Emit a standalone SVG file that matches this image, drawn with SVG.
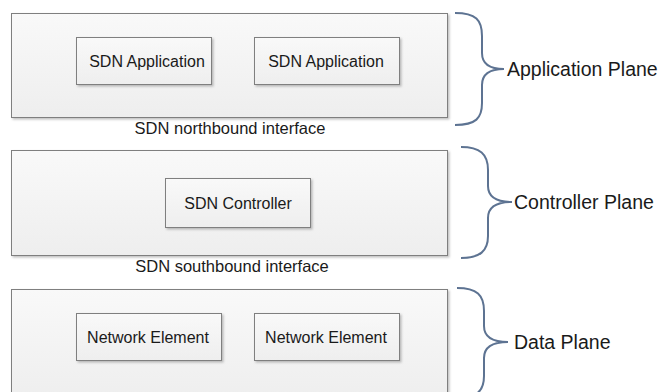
<svg xmlns="http://www.w3.org/2000/svg" width="664" height="392" viewBox="0 0 664 392">
<defs>
<linearGradient id="g" x1="0" y1="0" x2="0" y2="1">
<stop offset="0" stop-color="#f9f9f9"/>
<stop offset="1" stop-color="#eeeeee"/>
</linearGradient>
<filter id="sh" x="-5%" y="-5%" width="115%" height="120%">
<feDropShadow dx="1.5" dy="1.5" stdDeviation="0.8" flood-color="#000" flood-opacity="0.25"/>
</filter>
</defs>
<style>
.plane{fill:url(#g);stroke:#7f7f7f;stroke-width:1;filter:url(#sh)}
.box{fill:url(#g);stroke:#7f7f7f;stroke-width:1;filter:url(#sh)}
.t{font-family:"Liberation Sans",Arial,sans-serif;font-size:16px;fill:#1a1a1a;text-anchor:middle}
.lbl{font-family:"Liberation Sans",Arial,sans-serif;font-size:16.5px;fill:#1a1a1a;text-anchor:middle}
.pl{font-family:"Liberation Sans",Arial,sans-serif;font-size:19.5px;fill:#1a1a1a}
.brace{fill:none;stroke:#5d7392;stroke-width:2}
</style>
<rect width="664" height="392" fill="#ffffff"/>
<g id="app-plane">
<rect class="plane" x="11.5" y="13.5" width="436" height="104"/>
<text class="lbl" x="230" y="134">SDN northbound interface</text>
</g>
<g id="app1">
<rect class="box" x="76.5" y="37.5" width="135" height="47"/>
<text class="t" x="147" y="66.5">SDN Application</text>
</g>
<g id="app2">
<rect class="box" x="254.5" y="37.5" width="145" height="47"/>
<text class="t" x="326" y="66.5">SDN Application</text>
</g>
<g id="ctrl-plane">
<rect class="plane" x="11.5" y="150.5" width="436" height="105"/>
<text class="lbl" x="232" y="272">SDN southbound interface</text>
</g>
<g id="ctrl">
<rect class="box" x="165.5" y="178.5" width="145" height="49"/>
<text class="t" x="238" y="208.5">SDN Controller</text>
</g>
<g id="data-plane">
<rect class="plane" x="11.5" y="289.5" width="436" height="110"/>
</g>
<g id="ne1">
<rect class="box" x="76.5" y="313.5" width="145" height="47"/>
<text class="t" x="148" y="342.5">Network Element</text>
</g>
<g id="ne2">
<rect class="box" x="254.5" y="313.5" width="145" height="47"/>
<text class="t" x="326" y="342.5">Network Element</text>
</g>
<g id="braces">
<path class="brace" d="M455,13 C476,13 482,20 482,36 L482,53 C482,64 490,69 504,69 C490,69 482,74 482,85 L482,103 C482,118 476,125 455,125"/>
<path class="brace" d="M461,147 C480,147 488,154 488,170 L488,186 C488,197 496,202 512,202 C496,202 488,207 488,218 L488,236 C488,251 480,258 461,258"/>
<path class="brace" d="M457,288 C477,288 484,295 484,311 L484,326 C484,337 492,342 508,342 C492,342 484,347 484,358 L484,376 C484,391 477,398 457,398"/>
</g>
<g id="plane-labels">
<text class="pl" x="507" y="76">Application Plane</text>
<text class="pl" x="514" y="209">Controller Plane</text>
<text class="pl" x="514" y="349">Data Plane</text>
</g>
</svg>
